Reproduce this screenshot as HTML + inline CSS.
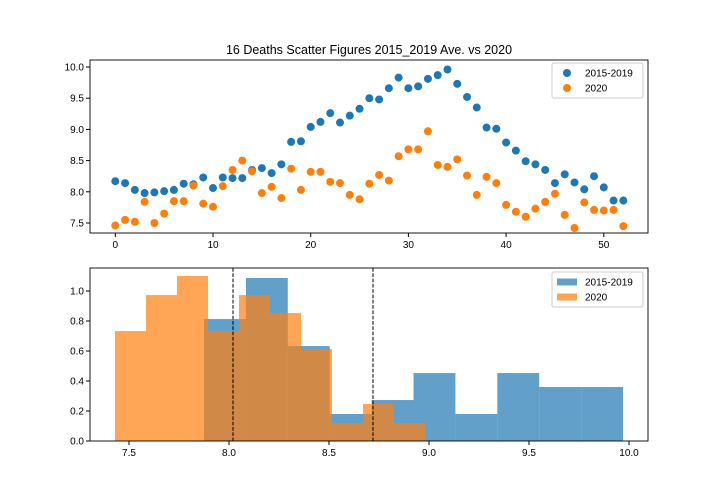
<!DOCTYPE html>
<html><head><meta charset="utf-8"><style>
body{margin:0;background:#fff}
svg{display:block;font-family:"Liberation Sans","DejaVu Sans",sans-serif}
</style></head><body>
<svg id="c" width="720" height="504"></svg>
<script>
const weeks=[];for(let i=0;i<53;i++)weeks.push(i);
const avg=[8.17,8.14,8.03,7.98,7.99,8.01,8.03,8.13,8.12,8.23,8.06,8.23,8.22,8.22,8.35,8.38,8.30,8.44,8.80,8.81,9.04,9.12,9.26,9.11,9.22,9.33,9.50,9.48,9.66,9.83,9.66,9.69,9.81,9.87,9.96,9.73,9.52,9.35,9.03,9.01,8.79,8.66,8.49,8.44,8.35,8.14,8.28,8.15,8.04,8.25,8.07,7.86,7.86];
const y2020=[7.46,7.55,7.52,7.84,7.50,7.65,7.85,7.85,8.10,7.81,7.76,8.09,8.35,8.50,8.33,7.98,8.08,7.90,8.37,8.03,8.32,8.32,8.16,8.14,7.95,7.88,8.13,8.27,8.18,8.57,8.68,8.68,8.97,8.43,8.40,8.52,8.26,7.95,8.24,8.14,7.79,7.68,7.60,7.73,7.84,7.97,7.63,7.42,7.83,7.71,7.70,7.71,7.45];
const topXTicks=[0,10,20,30,40,50];
const topYTicks=[7.5,8.0,8.5,9.0,9.5,10.0];
const histAvgStart=7.875, histAvgWidth=0.2095;
const histAvgDensity=[0.813,1.087,0.633,0.18,0.273,0.453,0.18,0.453,0.36,0.36];
const hist2020Start=7.43, hist2020Width=0.155;
const hist2020Density=[0.733,0.973,1.10,0.733,0.973,0.853,0.613,0.12,0.247,0.12];
const meanLines=[8.02,8.72];
const botXTicks=[7.5,8.0,8.5,9.0,9.5,10.0];
const botYTicks=[0,0.2,0.4,0.6,0.8,1.0];

const svg=document.getElementById('c');const NS='http://www.w3.org/2000/svg';
function mk(t,a,p){const e=document.createElementNS(NS,t);for(const k in a)e.setAttribute(k,a[k]);(p||svg).appendChild(e);return e;}
const L=90,R=648;
const tT=60,tB=233;
const tx=v=>115.3+v*9.77, ty=v=>223-(v-7.5)*62.4;
let g=mk('g',{});
let t=mk('text',{x:369,y:54,'text-anchor':'middle','font-size':12.5,fill:'#000'});t.textContent='16 Deaths Scatter Figures 2015_2019 Ave. vs 2020';

weeks.forEach((w,i)=>{let c=mk('circle',{cx:tx(w),cy:ty(avg[i]),r:4,fill:'#1f77b4'},g);
});
weeks.forEach((w,i)=>{let c=mk('circle',{cx:tx(w),cy:ty(y2020[i]),r:4,fill:'#ff7f0e'},g);
});
let f=mk('rect',{x:L,y:tT,width:R-L,height:tB-tT,fill:'none',stroke:'#000','stroke-width':0.9});

topXTicks.forEach(v=>{mk('line',{x1:tx(v),x2:tx(v),y1:tB,y2:tB+4,stroke:'#000'});
let e=mk('text',{x:tx(v),y:tB+15,'text-anchor':'middle','font-size':10});e.textContent=v;
});
topYTicks.forEach(v=>{mk('line',{x1:L-4,x2:L,y1:ty(v),y2:ty(v),stroke:'#000'});
let e=mk('text',{x:L-6,y:ty(v)+3.5,'text-anchor':'end','font-size':10});e.textContent=v.toFixed(1);
});
function legend(y0,isHist,nm){let lg=mk('g',{});
mk('rect',{x:552,y:y0,width:91,height:35,rx:2,fill:'#fff','fill-opacity':0.8,stroke:'#ccc'},lg);
[['2015-2019','#1f77b4'],['2020','#ff7f0e']].forEach((s,i)=>{const yy=y0+10+i*15;
if(isHist)mk('rect',{x:557,y:yy-3.5,width:20,height:7,fill:s[1],'fill-opacity':0.7},lg);
else mk('circle',{cx:567,cy:yy,r:4,fill:s[1]},lg);
let e=mk('text',{x:585,y:yy+3.5,'font-size':10},lg);e.textContent=s[0];
});}
legend(63,false,'top-legend');
const bT=268,bB=441;
const bx=v=>129+(v-7.5)*200, by=v=>441-v*150;
let hg=mk('g',{});
histAvgDensity.forEach((d,i)=>{const a=histAvgStart+i*histAvgWidth;
let r=mk('rect',{x:bx(a),y:by(d),width:bx(a+histAvgWidth)-bx(a),height:by(0)-by(d),fill:'#1f77b4','fill-opacity':0.7},hg);
});
hist2020Density.forEach((d,i)=>{const a=hist2020Start+i*hist2020Width;
let r=mk('rect',{x:bx(a),y:by(d),width:bx(a+hist2020Width)-bx(a),height:by(0)-by(d),fill:'#ff7f0e','fill-opacity':0.7},hg);
});
meanLines.forEach(m=>{let l=mk('line',{x1:bx(m),x2:bx(m),y1:bT,y2:bB,stroke:'#000','stroke-width':1,'stroke-dasharray':'3.7,1.6'});
});
f=mk('rect',{x:L,y:bT,width:R-L,height:bB-bT,fill:'none',stroke:'#000','stroke-width':0.9});

botXTicks.forEach(v=>{mk('line',{x1:bx(v),x2:bx(v),y1:bB,y2:bB+4,stroke:'#000'});
let e=mk('text',{x:bx(v),y:bB+15,'text-anchor':'middle','font-size':10});e.textContent=v.toFixed(1);
});
botYTicks.forEach(v=>{mk('line',{x1:L-4,x2:L,y1:by(v),y2:by(v),stroke:'#000'});
let e=mk('text',{x:L-6,y:by(v)+3.5,'text-anchor':'end','font-size':10});e.textContent=v.toFixed(1);
});
legend(272,true,'bottom-legend');
</script>
</body></html>
